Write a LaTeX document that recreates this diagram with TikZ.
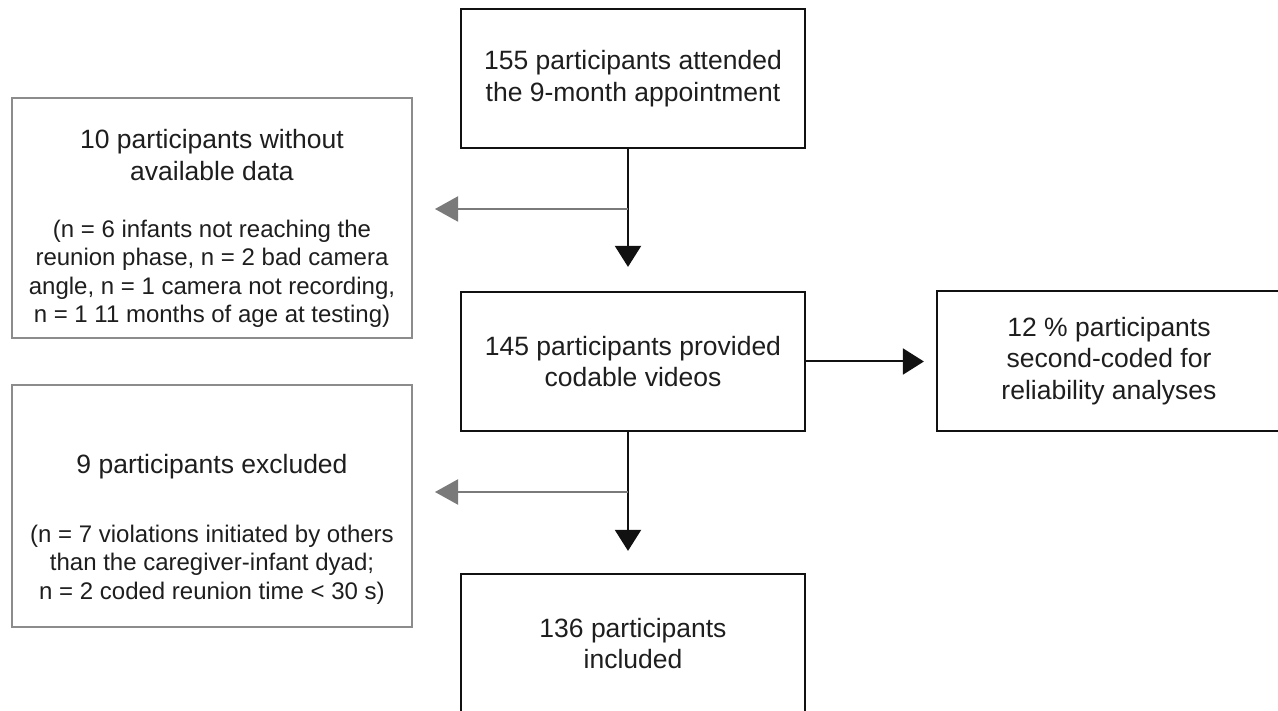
\documentclass[tikz,border=0pt]{standalone}
\usepackage{fontspec}
\setmainfont{Liberation Sans}
\usetikzlibrary{arrows.meta,calc}
\definecolor{sidegray}{HTML}{8C8C8C}
\definecolor{arrowgray}{HTML}{7A7A7A}
\definecolor{inkblack}{HTML}{111111}
\definecolor{txtcol}{HTML}{1E1E1E}
\begin{document}
\begin{tikzpicture}[x=1pt,y=-1pt,
  mainbox/.style={draw=inkblack, line width=2.2pt, minimum width=344pt, minimum height=139pt,
    inner sep=0pt, align=center, text=txtcol, font=\fontsize{26.5}{31.5}\selectfont},
  sidebox/.style={draw=sidegray, line width=2pt, minimum width=400pt, inner sep=0pt},
  titletxt/.style={inner sep=0pt, align=center, text=txtcol, font=\fontsize{26.5}{32}\selectfont},
  detailtxt/.style={inner sep=0pt, align=center, text=txtcol, font=\fontsize{24}{28.5}\selectfont},
  mainarrow/.style={draw=inkblack, line width=2pt, -{Triangle[length=21pt,width=26pt]}},
  sidearrow/.style={draw=arrowgray, line width=2pt, -{Triangle[length=23pt,width=25pt]}},
]
\useasboundingbox (0,0) rectangle (1278,711);
\clip (0,0) rectangle (1278,711);
\fill[white] (0,0) rectangle (1278,711);

% main boxes
\node[mainbox] (start) at (633,78.5) {155 participants attended\\the 9-month appointment};
\node[mainbox] (coded) at (633,361.5) {145 participants provided\\codable videos};
\node[mainbox] (incl) at (633,643.5) {136 participants\\included};
\node[mainbox, minimum height=140pt] (rel) at (1109,361) {12 \% participants\\second-coded for\\reliability analyses};

% side boxes
\node[sidebox, minimum height=240pt] (nodata) at (212,218) {};
\node[sidebox, minimum height=242pt] (excl) at (212,506) {};

\node[titletxt, anchor=north] (nodatatitle) at (212,125.6)
  {\strut 10 participants without\\\strut available data};
\node[detailtxt, anchor=north] (nodatadetail) at (212,217)
  {\strut(n = 6 infants not reaching the\\\strut reunion phase, n = 2 bad camera\\\strut angle, n = 1 camera not recording,\\\strut n = 1 11 months of age at testing)};

\node[titletxt, anchor=base] (excltitle) at (212,473) {9 participants excluded};
\node[detailtxt, anchor=north] (excldetail) at (212,522)
  {\strut(n = 7 violations initiated by others\\\strut than the caregiver-infant dyad;\\\strut n = 2 coded reunion time < 30 s)};

% connectors
\coordinate (split1) at (628,209);
\coordinate (split2) at (628,492);
\draw[mainarrow, shorten >=24pt] ($(start.south)+(-5,0)$) -- ($(coded.north)+(-5,0)$);
\draw[sidearrow, shorten >=22pt] (split1) -- (split1 -| nodata.east);
\draw[mainarrow, shorten >=22pt] ($(coded.south)+(-5,0)$) -- ($(incl.north)+(-5,0)$);
\draw[sidearrow, shorten >=22pt] (split2) -- (split2 -| excl.east);
\draw[mainarrow, shorten >=12pt] (coded.east) -- (coded.east -| rel.west);
\end{tikzpicture}
\end{document}
